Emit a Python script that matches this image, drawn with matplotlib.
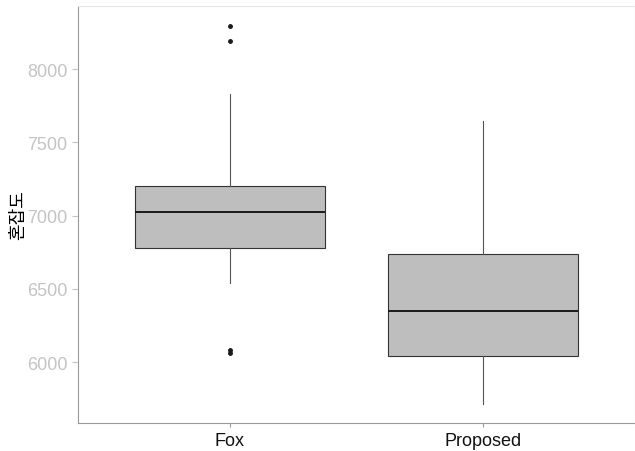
import matplotlib
matplotlib.use("Agg")
import matplotlib.pyplot as plt

plt.rcParams["font.family"] = ["Liberation Sans", "Noto Sans CJK KR", "DejaVu Sans"]

# box statistics
labels = ["Fox", "Proposed"]
q1 = [6778, 6041]
med = [7024, 6348]
q3 = [7201, 6737]
whislo = [6539, 5713]
whishi = [7829, 7645]
fliers = [[8294, 8191, 6080, 6062], []]
yticks = [6000, 6500, 7000, 7500, 8000]

stats = []
for i in range(len(labels)):
    stats.append({"label": labels[i], "q1": q1[i], "med": med[i], "q3": q3[i],
                  "whislo": whislo[i], "whishi": whishi[i], "fliers": fliers[i]})

fig = plt.figure(figsize=(6.35, 4.52), dpi=100)
ax = fig.add_axes([78 / 635, 28 / 452, 557 / 635, 417 / 452])

ax.bxp(stats, positions=[1, 2], widths=0.75, patch_artist=True,
       boxprops=dict(facecolor="#bebebe", edgecolor="#333333", linewidth=0.8),
       medianprops=dict(color="#1a1a1a", linewidth=1.4),
       whiskerprops=dict(color="#555555", linewidth=0.8),
       capprops=dict(linewidth=0),
       flierprops=dict(marker="o", markersize=2.5, markerfacecolor="#1a1a1a",
                       markeredgecolor="#1a1a1a"))

ax.set_xlim(0.4, 2.6)
ax.set_ylim(5584, 8430)
ax.set_yticks(yticks)
ax.set_yticklabels([str(v) for v in yticks], color="#c4c4c4", fontsize=13)
ax.set_xticks([1, 2])
ax.set_xticklabels(labels, fontsize=13, color="#111111")
ax.tick_params(axis="y", colors="#c4c4c4", length=4, width=0.8, labelcolor="#c4c4c4")
ax.tick_params(axis="x", colors="#999999", length=3, width=0.8, labelcolor="#111111")
ax.set_ylabel("혼잡도", fontsize=13, family=["Noto Sans CJK KR"])
ax.yaxis.label.set_va("center")
ax.yaxis.set_label_coords(-0.108, 0.5)

for side in ["left", "bottom"]:
    ax.spines[side].set_color("#9a9a9a")
    ax.spines[side].set_linewidth(0.8)
for side in ["top", "right"]:
    ax.spines[side].set_color("#e6e6e6")
    ax.spines[side].set_linewidth(0.8)

fig.savefig("out.png", dpi=100)
